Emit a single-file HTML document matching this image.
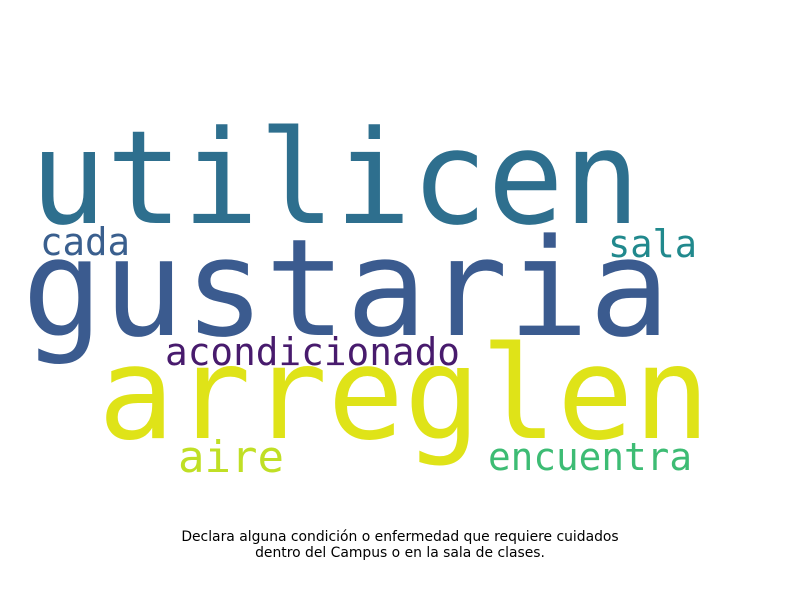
<!DOCTYPE html>
<html><head><meta charset="utf-8"><style>body{margin:0;background:#fff}svg{display:block}</style></head>
<body>
<svg id="cloud" width="800" height="600" viewBox="0 0 800 600" xmlns="http://www.w3.org/2000/svg">
<rect width="800" height="600" fill="#fff"/>
<g id="words"></g>
<text x="400" y="541" text-anchor="middle" font-family="DejaVu Sans, sans-serif" font-size="13.9" fill="#000">Declara alguna condición o enfermedad que requiere cuidados</text>
<text x="400" y="557" text-anchor="middle" font-family="DejaVu Sans, sans-serif" font-size="13.9" fill="#000">dentro del Campus o en la sala de clases.</text>
</svg>
<script>
const words = ["utilicen","gustaria","arreglen","cada","sala","acondicionado","aire","encuentra"];
const sizes = [130,135,128,38,38,38,44,38];
const colors = ["#2e6f8e","#3b5b8f","#dfe318","#3a5f8e","#21898d","#481b6d","#c0df25","#3dbc74"];
const lefts = [30,22,98,40,608,165,178,488];
const rights = [640,670,710,130,697,460,284,692];
const baselines = [223,335,438,255,257,365,472,470];
const g = document.getElementById('words');
const NS = "http://www.w3.org/2000/svg";
words.forEach((w,i)=>{
  const t = document.createElementNS(NS,'text');
  
  
  t.setAttribute('x', lefts[i]);
  t.setAttribute('y', baselines[i]);
  t.setAttribute('font-family', 'DejaVu Sans Mono, Liberation Mono, monospace');
  t.setAttribute('font-size', sizes[i]);
  t.setAttribute('fill', colors[i]);
  t.setAttribute('textLength', rights[i]-lefts[i]);
  t.setAttribute('lengthAdjust', 'spacingAndGlyphs');
  t.textContent = w;
  g.appendChild(t);
});
</script>
</body></html>
